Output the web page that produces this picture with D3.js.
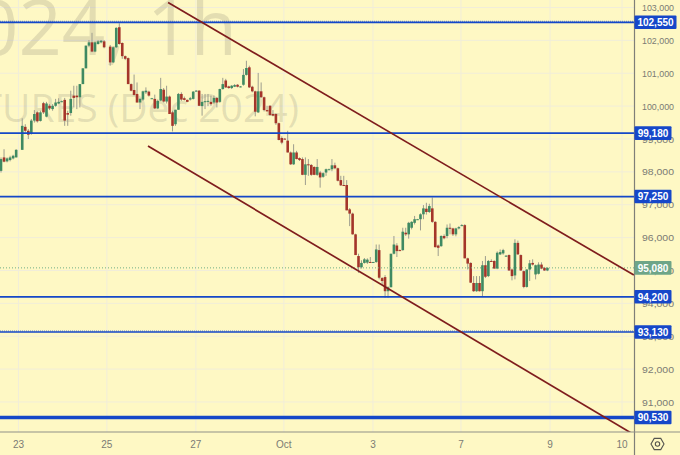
<!DOCTYPE html>
<html>
<head>
<meta charset="utf-8">
<script src="https://cdn.jsdelivr.net/npm/d3@7"></script>
<style>
  html, body { margin: 0; padding: 0; background: #fef8c4; }
  svg { display: block; font-family: "Liberation Sans", sans-serif; }
</style>
</head>
<body>
<svg width="680" height="455"></svg>
<script>
// hourly bars, null where the chart has no bar
const opens = [98030,98440,98320,98360,98410,98440,null,98670,99370,99250,99170,99560,99810,99550,100090,99680,100010,99910,100010,100080,100130,100190,99790,99790,100320,100320,100270,100670,101150,101840,101940,101660,101890,101940,101970,null,101810,101330,101790,102400,101920,101520,101460,100670,100490,100370,100110,100200,100420,100440,100240,100220,99930,100170,100500,100140,100290,99810,99450,99890,100370,100240,100190,100200,100220,100470,100470,100000,100130,100130,100130,100110,100250,100130,100520,100780,100600,
  100550,100590,100650,100590,100650,100950,101180,100590,100450,99810,100450,100270,99880,100010,99760,99760,99480,99030,99010,98950,98590,98230,98590,98420,98390,97910,98230,98210,98150,97910,97980,97850,97980,98080,98080,98200,98110,97750,97600,97600,
  96860,96730,96100,95440,95100,95230,95240,95260,95250,95260,95620,94770,94800,94370,94490,95510,95760,95620,95620,96150,96100,96300,96450,96560,96560,96710,96880,96780,96890,96480,95760,95740,96050,96050,96300,96280,96100,96280,96370,96380,95370,95230,94620,94370,94620,94370,95160,94830,95290,95290,95060,95490,95520,95440,95470,95030,94850,95840,95470,94980,94500,95030,95230,94880,94900,95180,95080,95000];
const highs = [98440,98690,98440,98490,98520,98690,null,99630,99450,99300,99610,99880,99840,99860,100130,100130,100060,100060,100220,100240,100170,100250,99860,100470,100620,100620,100670,101150,101840,102010,102230,101970,102010,102010,102010,null,101860,101810,102400,102520,101940,101540,101480,100690,100960,100720,100240,100470,100570,100470,100250,100350,100200,100860,100550,100620,100320,99860,99890,100400,100420,100290,100200,100280,100460,100490,100490,100370,100370,100370,100320,100320,100280,100530,100860,100830,100620,
  100640,100670,100670,100610,101130,101380,101230,100620,100470,101010,100720,100290,100010,100030,99880,99780,99500,99080,99030,99250,98620,98840,98640,98440,98440,98440,98390,98240,98170,98390,98030,97990,98100,98100,98390,98280,98130,97880,97880,97750,
  96900,96760,96120,95510,95310,95380,95370,95410,95260,95790,95790,94800,94860,94520,95510,96050,95830,95640,96300,96300,96480,96500,96660,96570,96740,96990,97060,97030,97220,96500,95790,96070,96100,96400,96430,96300,96300,96350,96410,96410,95390,95250,94830,94830,94830,95290,95440,95320,95340,95310,95580,95640,95660,95470,95490,95060,95950,95910,95490,95000,95040,95320,95340,95180,95250,95250,95110,95100];
const lows = [97980,98290,98290,98320,98380,98440,null,98670,99200,99000,99130,99500,99500,99530,99760,99660,99880,99860,99980,100060,100120,99400,99400,99710,99960,99910,99960,100670,101150,101790,101640,101640,101870,101910,101760,null,101230,101310,101770,101870,101440,101400,100670,100450,100320,100110,99910,100160,100370,100290,100230,99910,99910,100150,100110,100080,99760,99230,99400,99890,100160,100170,100120,100170,100200,100450,100000,99710,99910,100000,100010,100060,99960,100100,100500,100550,100530,
  100520,100580,100570,100570,100620,100930,100550,100420,99690,99790,100250,99840,99840,99700,99690,99430,98960,98840,98990,98590,98210,98210,98380,98330,97900,97600,97880,97880,97900,97880,97520,97820,97880,98060,98020,98080,97710,97570,97570,96830,
  96350,96090,95470,94930,95060,95210,95200,95240,95240,95230,94730,94570,94170,94170,94490,95490,95410,95600,95600,96050,95970,96250,96400,96550,96220,96560,96700,96750,96450,95700,95440,95720,95950,95980,96100,96050,96040,96250,96350,95370,95030,94620,94350,94350,94360,94220,94770,94800,95270,95050,95040,95470,95480,95420,94990,94700,94730,95480,94990,94460,94480,94680,95150,94730,94880,95040,94990,94980];
const closes = [98390,98310,98410,98440,98490,98670,null,99400,99250,99130,99560,99760,99540,99810,99810,100080,99930,100010,100110,100130,100150,99560,99740,100220,100250,100270,100670,101150,101840,101940,101660,101940,101970,101990,101790,null,101330,101790,102380,101890,101520,101440,100670,100470,100340,100110,100220,100450,100470,100320,100240,99930,100160,100520,100140,100290,99760,99400,99890,100370,100200,100190,100130,100240,100440,100470,100010,100130,100150,100160,100060,100250,100110,100520,100670,100570,100550,
  100620,100640,100590,100600,100950,101160,100570,100450,99830,100450,100270,99880,99840,99730,99710,99480,98970,98890,99000,98590,98230,98590,98390,98360,97910,98230,98220,97910,97910,98150,97830,97960,98080,98080,98200,98110,97730,97590,97580,96830,
  96730,96100,95470,95100,95230,95340,95330,95250,95260,95640,94780,94680,94370,94490,95510,95790,95590,95610,96180,96100,96450,96480,96560,96560,96710,96890,96780,96960,96480,95710,95690,96050,95980,96300,96290,96100,96280,96320,96380,95370,95210,94630,94370,94620,94370,95160,94810,95290,95280,95060,95540,95560,95620,95450,95000,94830,95840,95490,95000,94500,95030,95220,95180,95160,95180,95060,95000,95080];

const priceTicks = [103000,102000,101000,100000,99000,98000,97000,96000,95000,94000,93000,92000,91000];
const timeTickBars = [5.75,34.9,64.9,94.7,124.9,154.7,184.9,209.3];
const timeTickLabels = ["23","25","27","Oct","3","7","9","10"];

const levels = [102550,99180,97250,94200,93130,90530];
const heavyLevel = 90530;
const dottedLevels = [102550,93130];
const lastPrice = 95080;

// trend channel: [bar, price]
const upperChannel = [[55.5,103150],[213.3,94860]];
const lowerChannel = [[48.7,98790],[212.7,90040]];

const plotRight = 634.5, plotBottom = 432;
const grey = "#7b7b74", blue = "#1447c8", wine = "#7f1d1d";

// bar spacing drifts a little across the picture, so the scale has a few knots
const x = d3.scaleLinear().domain([0,39,76,116,184]).range([1,119.3,228.7,346.7,547.4]);
const y = d3.scaleLinear().domain([103000,91000]).range([7.5,402]);
const fmt = d3.format(",");

const svg = d3.select("svg");
svg.append("rect").attr("width",680).attr("height",455).attr("fill","#fef8c4");

svg.append("clipPath").attr("id","plot").append("rect")
   .attr("width",plotRight).attr("height",plotBottom);
const plot = svg.append("g").attr("clip-path","url(#plot)");

// gridlines
plot.selectAll(".hgrid").data(priceTicks).enter().append("line")
   .attr("x1",0).attr("x2",plotRight)
   .attr("y1",d => y(d)).attr("y2",d => y(d))
   .attr("stroke","#f1edd9").attr("stroke-width",1);
plot.selectAll(".vgrid").data(timeTickBars).enter().append("line")
   .attr("y1",0).attr("y2",plotBottom)
   .attr("x1",d => x(d)).attr("x2",d => x(d))
   .attr("stroke","#f1edd9").attr("stroke-width",1);

// watermark
const mark = plot.append("g").attr("fill","#77756a").attr("fill-opacity",0.2)
   .style("font-family","'Open Sans', sans-serif");
mark.append("text").attr("x",125).attr("y",55).attr("font-size",76)
   .attr("text-anchor","end").text("BTCZ2024,");
mark.append("text").attr("x",147).attr("y",55).attr("font-size",76).text("1h");
mark.append("text").attr("x",299).attr("y",122).attr("font-size",39)
   .attr("text-anchor","end").text("BITCOIN FUTURES (Dec 2024)");

// candles
const bars = d3.range(opens.length).filter(i => opens[i] !== null);
plot.selectAll(".wick").data(bars).enter().append("line")
   .attr("x1",i => x(i)).attr("x2",i => x(i))
   .attr("y1",i => y(highs[i])).attr("y2",i => y(lows[i]))
   .attr("stroke","#9d9d8e").attr("stroke-width",1);
plot.selectAll(".candle").data(bars).enter().append("rect")
   .attr("x",i => x(i)-1.3).attr("width",2.6)
   .attr("y",i => y(Math.max(opens[i],closes[i])))
   .attr("height",i => Math.max(1,Math.abs(y(opens[i])-y(closes[i]))))
   .attr("fill",i => closes[i] >= opens[i] ? "#3f8a62" : "#a4352a");

// levels
plot.selectAll(".level").data(levels).enter().append("line")
   .attr("x1",0).attr("x2",plotRight)
   .attr("y1",d => y(d)).attr("y2",d => y(d))
   .attr("stroke",blue).attr("stroke-width",d => d === heavyLevel ? 3.6 : 1.7);
plot.selectAll(".dotted").data(dottedLevels).enter().append("line")
   .attr("x1",0).attr("x2",plotRight)
   .attr("y1",d => y(d)-1).attr("y2",d => y(d)-1)
   .attr("stroke",blue).attr("stroke-opacity",0.6).attr("stroke-dasharray","1 1");

// last price
plot.append("line").attr("x1",0).attr("x2",plotRight)
   .attr("y1",y(lastPrice)).attr("y2",y(lastPrice))
   .attr("stroke","#6fae86").attr("stroke-dasharray","1 2");

// channel
const line = d3.line().x(d => x(d[0])).y(d => y(d[1]));
plot.selectAll(".channel").data([upperChannel,lowerChannel]).enter().append("path")
   .attr("d",line).attr("fill","none").attr("stroke",wine).attr("stroke-width",1.7);

// axes frame
svg.append("line").attr("x1",plotRight).attr("x2",plotRight).attr("y1",0).attr("y2",455)
   .attr("stroke","#7f7f78").attr("stroke-width",1.2);
svg.append("line").attr("x1",0).attr("x2",680).attr("y1",plotBottom).attr("y2",plotBottom)
   .attr("stroke","#8f8f88").attr("stroke-width",1.2);

svg.selectAll(".ptick").data(priceTicks).enter().append("text")
   .attr("x",642).attr("y",d => y(d)+3.5)
   .attr("font-size",9.8).attr("fill",grey)
   .attr("textLength",32).attr("lengthAdjust","spacingAndGlyphs")
   .text(fmt);
svg.selectAll(".ttick").data(timeTickBars).enter().append("text")
   .attr("x",d => x(d)).attr("y",447.5).attr("text-anchor","middle")
   .attr("font-size",10).attr("fill",grey)
   .text((d,i) => timeTickLabels[i]);

// price tags
function tag(value, fill) {
   const txt = fmt(value), w = value >= 100000 ? 42 : 37;
   const g = svg.append("g");
   g.append("rect").attr("x",plotRight).attr("y",y(value)-6.8)
      .attr("width",w).attr("height",13.6).attr("rx",1).attr("fill",fill);
   g.append("text").attr("x",plotRight+w/2).attr("y",y(value)+3.7)
      .attr("text-anchor","middle").attr("font-size",10).attr("font-weight","bold")
      .attr("fill","#fff").text(txt);
}
levels.forEach(v => tag(v,"#1647c9"));
tag(lastPrice,"#6ea588");

// settings hexagon
const hexR = 6.5, cx = 657.5, cy = 444;
svg.append("path")
   .attr("d",d3.line()(d3.range(6).map(k => [cx+hexR*Math.cos(k*Math.PI/3),cy+hexR*Math.sin(k*Math.PI/3)]))+"Z")
   .attr("fill","none").attr("stroke","#55554f").attr("stroke-width",1.1);
svg.append("circle").attr("cx",cx).attr("cy",cy).attr("r",2.2)
   .attr("fill","none").attr("stroke","#55554f").attr("stroke-width",1.1);
</script>
</body>
</html>
